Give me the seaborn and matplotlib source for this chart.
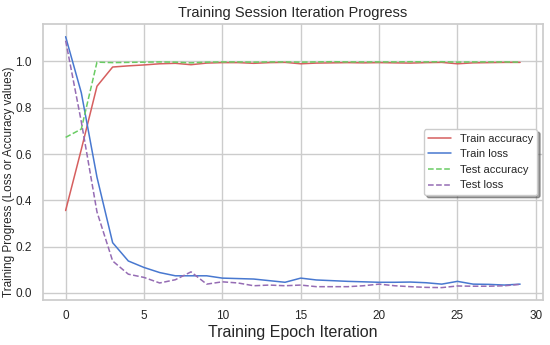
import matplotlib
matplotlib.use("Agg")
import matplotlib.pyplot as plt
import seaborn as sns
import pandas as pd
import numpy as np

epochs = list(range(30))
train_acc = [0.356, 0.62, 0.893, 0.976, 0.981, 0.985, 0.99, 0.992, 0.986, 0.993,
             0.995, 0.995, 0.992, 0.995, 0.996, 0.99, 0.993, 0.994, 0.995, 0.994,
             0.995, 0.994, 0.993, 0.995, 0.996, 0.99, 0.994, 0.995, 0.996, 0.996]
train_loss = [1.107, 0.865, 0.50, 0.217, 0.138, 0.11, 0.088, 0.074, 0.074, 0.074,
              0.064, 0.062, 0.060, 0.053, 0.046, 0.064, 0.056, 0.053, 0.050, 0.048,
              0.046, 0.046, 0.047, 0.044, 0.038, 0.050, 0.038, 0.037, 0.034, 0.038]
test_acc = [0.672, 0.708, 0.997, 0.995, 0.996, 0.997, 0.998, 0.997, 0.994, 0.997,
            0.998, 0.998, 0.997, 0.998, 0.998, 0.997, 0.998, 0.999, 0.998, 0.998,
            0.998, 0.998, 0.999, 0.998, 0.999, 0.997, 0.998, 0.998, 0.998, 0.997]
test_loss = [1.09, 0.74, 0.35, 0.138, 0.081, 0.067, 0.043, 0.057, 0.091, 0.038,
             0.048, 0.043, 0.031, 0.034, 0.031, 0.034, 0.027, 0.027, 0.027, 0.031,
             0.038, 0.031, 0.027, 0.024, 0.023, 0.030, 0.029, 0.029, 0.031, 0.037]

sns.set_theme(style="whitegrid")
plt.rcParams['font.family'] = ['Liberation Sans', 'DejaVu Sans']
pal = sns.color_palette("muted")

fig, ax = plt.subplots(figsize=(5.5, 3.45), dpi=100)
sns.lineplot(x=epochs, y=train_acc, ax=ax, color=pal[3], lw=1.1, label="Train accuracy")
sns.lineplot(x=epochs, y=train_loss, ax=ax, color=pal[0], lw=1.1, label="Train loss")
sns.lineplot(x=epochs, y=test_acc, ax=ax, color=pal[2], lw=1.1, ls="--", label="Test accuracy")
sns.lineplot(x=epochs, y=test_loss, ax=ax, color=pal[4], lw=1.1, ls="--", label="Test loss")

ax.set_title("Training Session Iteration Progress", fontsize=10.5, pad=5)
ax.set_xlabel("Training Epoch Iteration", fontsize=11.5, labelpad=2)
ax.set_ylabel("Training Progress (Loss or Accuracy values)", fontsize=8.5)
ax.yaxis.set_label_coords(-0.055, 0.43)
ax.tick_params(axis="y", labelsize=8.5, pad=2)
ax.tick_params(axis="x", labelsize=8.5, pad=1)
ax.set_xticks([0, 5, 10, 15, 20, 25, 30])
ax.legend(loc="center right", fontsize=8, shadow=True, frameon=True)
fig.subplots_adjust(left=0.078, right=0.987, top=0.93, bottom=0.13)
fig.savefig("out.png")
